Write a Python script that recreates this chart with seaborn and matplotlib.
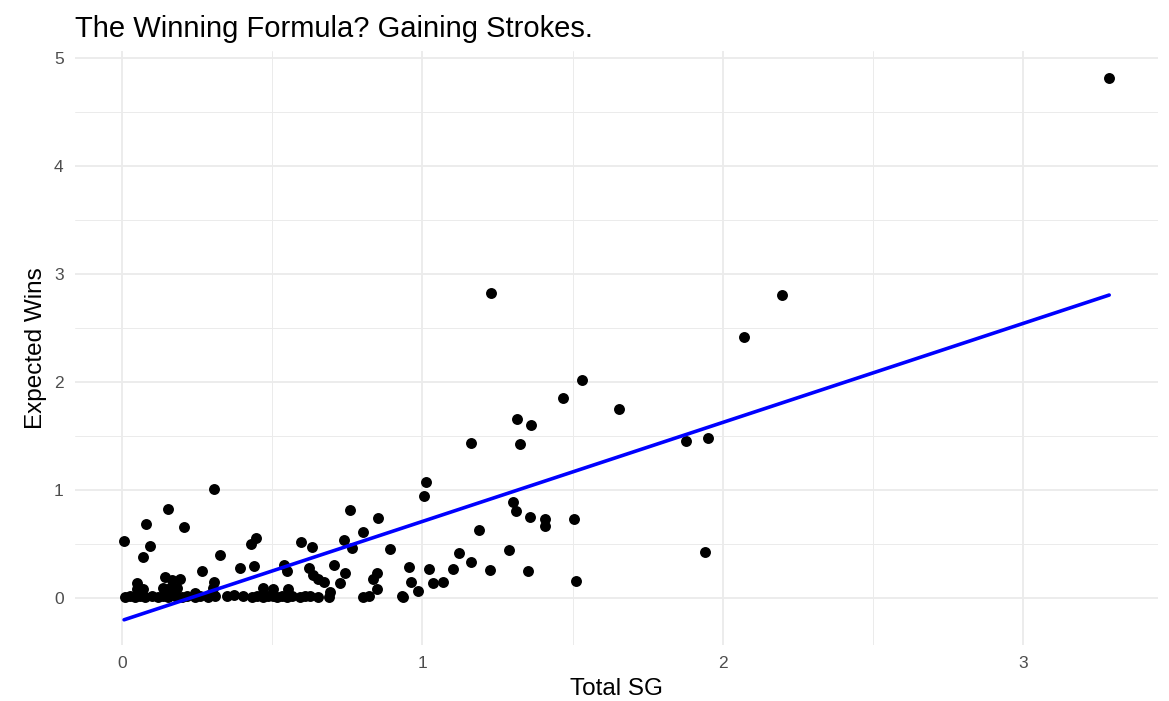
import numpy as np
import pandas as pd
import seaborn as sns
import matplotlib.pyplot as plt
from matplotlib.ticker import MultipleLocator

# values
total_sg = [3.286, 1.227, 2.198, 2.072, 1.530, 1.467, 1.653, 1.314, 1.363, 1.324,
            1.161, 1.876, 1.952, 1.942, 0.306, 1.011, 1.004, 1.300, 1.310, 1.357,
            1.407, 1.407, 1.506, 1.510, 1.187, 1.287, 1.350, 1.224, 1.161, 1.121,
            1.101, 1.068, 1.034, 1.021, 0.984, 0.961, 0.954, 0.931, 0.937, 0.891,
            0.851, 0.848, 0.848, 0.835, 0.821, 0.801, 0.801, 0.758, 0.765, 0.738,
            0.742, 0.725, 0.705, 0.692, 0.672, 0.652, 0.635, 0.632, 0.622, 0.595,
            0.625, 0.609, 0.592, 0.565, 0.549, 0.539, 0.552, 0.549, 0.532, 0.515,
            0.502, 0.502, 0.486, 0.469, 0.469, 0.449, 0.446, 0.429, 0.439, 0.432,
            0.402, 0.392, 0.349, 0.326, 0.309, 0.303, 0.306, 0.286, 0.266, 0.259,
            0.243, 0.243, 0.216, 0.206, 0.200, 0.193, 0.183, 0.176, 0.166, 0.160,
            0.153, 0.153, 0.143, 0.136, 0.136, 0.120, 0.100, 0.093, 0.080, 0.076,
            0.070, 0.070, 0.060, 0.050, 0.050, 0.043, 0.027, 0.010, 0.007, 0.652,
            0.372, 0.289, 0.690]
expected_wins = [4.815, 2.828, 2.810, 2.421, 2.015, 1.848, 1.747, 1.654, 1.599, 1.423,
                 1.433, 1.451, 1.479, 0.425, 1.007, 1.072, 0.943, 0.887, 0.804, 0.749,
                 0.730, 0.665, 0.730, 0.157, 0.628, 0.444, 0.250, 0.259, 0.333, 0.416,
                 0.268, 0.148, 0.139, 0.268, 0.065, 0.148, 0.287, 0.018, 0.005, 0.453,
                 0.739, 0.231, 0.083, 0.176, 0.018, 0.610, 0.009, 0.813, 0.462, 0.536,
                 0.231, 0.139, 0.305, 0.055, 0.148, 0.176, 0.213, 0.471, 0.277, 0.518,
                 0.018, 0.018, 0.009, 0.018, 0.250, 0.305, 0.083, 0.009, 0.018, 0.009,
                 0.083, 0.018, 0.018, 0.092, 0.009, 0.018, 0.555, 0.499, 0.296, 0.009,
                 0.018, 0.277, 0.018, 0.397, 0.018, 0.092, 0.148, 0.009, 0.250, 0.018,
                 0.046, 0.009, 0.018, 0.656, 0.009, 0.176, 0.092, 0.018, 0.166, 0.092,
                 0.823, 0.009, 0.194, 0.092, 0.018, 0.009, 0.018, 0.481, 0.684, 0.009,
                 0.379, 0.083, 0.018, 0.139, 0.083, 0.009, 0.018, 0.009, 0.527, 0.009,
                 0.025, 0.030, 0.009]

df = pd.DataFrame({'Total SG': total_sg, 'Expected Wins': expected_wins})

sns.set_theme(style='white')
plt.rcParams['font.family'] = ['Liberation Sans', 'DejaVu Sans']

fig = plt.figure(figsize=(11.69, 7.01), dpi=100)
ax = fig.add_axes([0.064, 0.080, 0.927, 0.847])

# scatter + straight-line fit (no confidence band)
sns.regplot(data=df, x='Total SG', y='Expected Wins', ci=None, ax=ax,
            scatter_kws={'s': 62, 'color': 'black', 'linewidths': 0, 'alpha': 1},
            line_kws={'color': '#0000FF', 'linewidth': 2.6})

ax.set_xlim(-0.157, 3.45)
ax.set_ylim(-0.435, 5.065)
ax.xaxis.set_major_locator(MultipleLocator(1))
ax.yaxis.set_major_locator(MultipleLocator(1))
ax.xaxis.set_minor_locator(MultipleLocator(0.5))
ax.yaxis.set_minor_locator(MultipleLocator(0.5))
ax.grid(which='major', color='#EBEBEB', linewidth=1.3)
ax.grid(which='minor', color='#EBEBEB', linewidth=0.7)
ax.set_axisbelow(True)
for s in ax.spines.values():
    s.set_visible(False)
ax.tick_params(which='both', length=0, labelsize=12.5, labelcolor='#4D4D4D', pad=8)

ax.set_xlabel('Total SG', fontsize=17.5, color='black', labelpad=5)
ax.set_ylabel('Expected Wins', fontsize=17.5, color='black', labelpad=5)
ax.set_title('The Winning Formula? Gaining Strokes.', loc='left', fontsize=21,
             color='black', pad=10)

plt.savefig('out.png', dpi=100)
